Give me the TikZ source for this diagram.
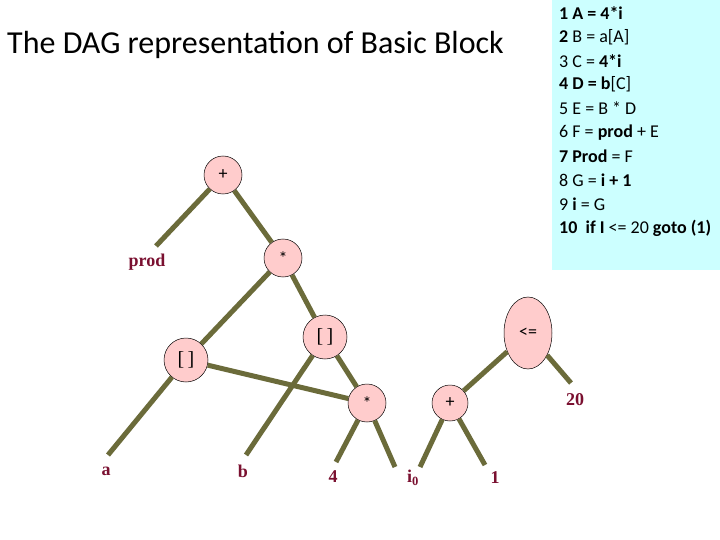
\documentclass[tikz,border=0pt]{standalone}
\usepackage{fontspec}
\setmainfont{Carlito}
\newfontfamily\serifx{Liberation Serif}
\usetikzlibrary{shapes.geometric}
\definecolor{edgec}{HTML}{6B6B3A}
\definecolor{nodefill}{HTML}{FFCCCC}
\definecolor{labc}{HTML}{7A1030}
\definecolor{panel}{HTML}{CCFFFF}
\begin{document}
\begin{tikzpicture}[x=1pt,y=-1pt,
  op/.style={circle,draw=black,fill=nodefill,line width=0.5pt,inner sep=0pt,font=\fontsize{18}{18}\selectfont},
  lab/.style={font=\serifx\bfseries\fontsize{18}{18}\selectfont,text=labc,inner sep=0pt},
  edge/.style={draw=edgec,line width=5pt}]
\useasboundingbox (0,0) rectangle (720,540);
\fill[white] (0,0) rectangle (720,540);
\fill[panel] (552,0) rectangle (720,270);
\node[anchor=west,font=\fontsize{32}{32}\selectfont,inner sep=0pt] (title) at (7,45) {The DAG representation of Basic Block};
\foreach \t [count=\i] in {%
 {\textbf{1 A = 4*i}},
 {\textbf{2} B = a[A]},
 {3 C = \textbf{4*i}},
 {\textbf{4 D = b}[C]},
 {5 E = B * D},
 {6 F = \textbf{prod} + E},
 {\textbf{7 Prod} = F},
 {8 G = \textbf{i + 1}},
 {9 \textbf{i} = G},
 {\textbf{10 \ if I} <= 20 \textbf{goto (1)}}}
 \node[anchor=west,font=\fontsize{18}{18}\selectfont,inner sep=0pt] (l\i) at (559,{13+(\i-1)*23.9}) {\t};
% nodes
\node[op,minimum size=38] (plus) at (223,175) {+};
\node[op,minimum size=38] (mul) at (283,258) {*};
\node[op,minimum size=44,font=\serifx\fontsize{20}{20}\selectfont] (idxr) at (325,337) {[\,]};
\node[op,minimum size=44,font=\serifx\fontsize{20}{20}\selectfont] (idxl) at (186,360) {[\,]};
\node[op,minimum size=38] (mul2) at (367,403) {*};
\node[op,minimum size=36] (plus2) at (450,403) {+};
\node[ellipse,draw=black,fill=nodefill,line width=0.5pt,minimum width=48,minimum height=72,inner sep=0pt,font=\fontsize{18}{18}\selectfont] (le) at (528,333) {<=};
% labels
\node[lab] (prod) at (147,262) {prod};
\node[lab] (a) at (106,471) {a};
\node[lab] (b) at (243,471) {b};
\node[lab] (four) at (333,477) {4};
\node[lab] (i0) at (413,478) {i\textsubscript{0}};
\node[lab] (one) at (495,478) {1};
\node[lab] (twenty) at (575,400) {20};
% free ends
\coordinate (eprod) at (156,246);
\coordinate (ea) at (108,455);
\coordinate (eb) at (246,455);
\coordinate (e4) at (336,462);
\coordinate (ei0a) at (395,467);
\coordinate (ei0b) at (420,467);
\coordinate (e1) at (485,465);
\coordinate (e20) at (571,383);
\draw[edge] (plus) -- (eprod);
\draw[edge] (plus) -- (mul);
\draw[edge] (mul) -- (idxl);
\draw[edge] (mul) -- (idxr);
\draw[edge] (idxl) -- (ea);
\draw[edge] (idxl) -- (mul2);
\draw[edge] (idxr) -- (eb);
\draw[edge] (idxr) -- (mul2);
\draw[edge] (mul2) -- (e4);
\draw[edge] (mul2) -- (ei0a);
\draw[edge] (plus2) -- (ei0b);
\draw[edge] (plus2) -- (e1);
\draw[edge] (le) -- (plus2);
\draw[edge] (le) -- (e20);
\end{tikzpicture}
\end{document}
